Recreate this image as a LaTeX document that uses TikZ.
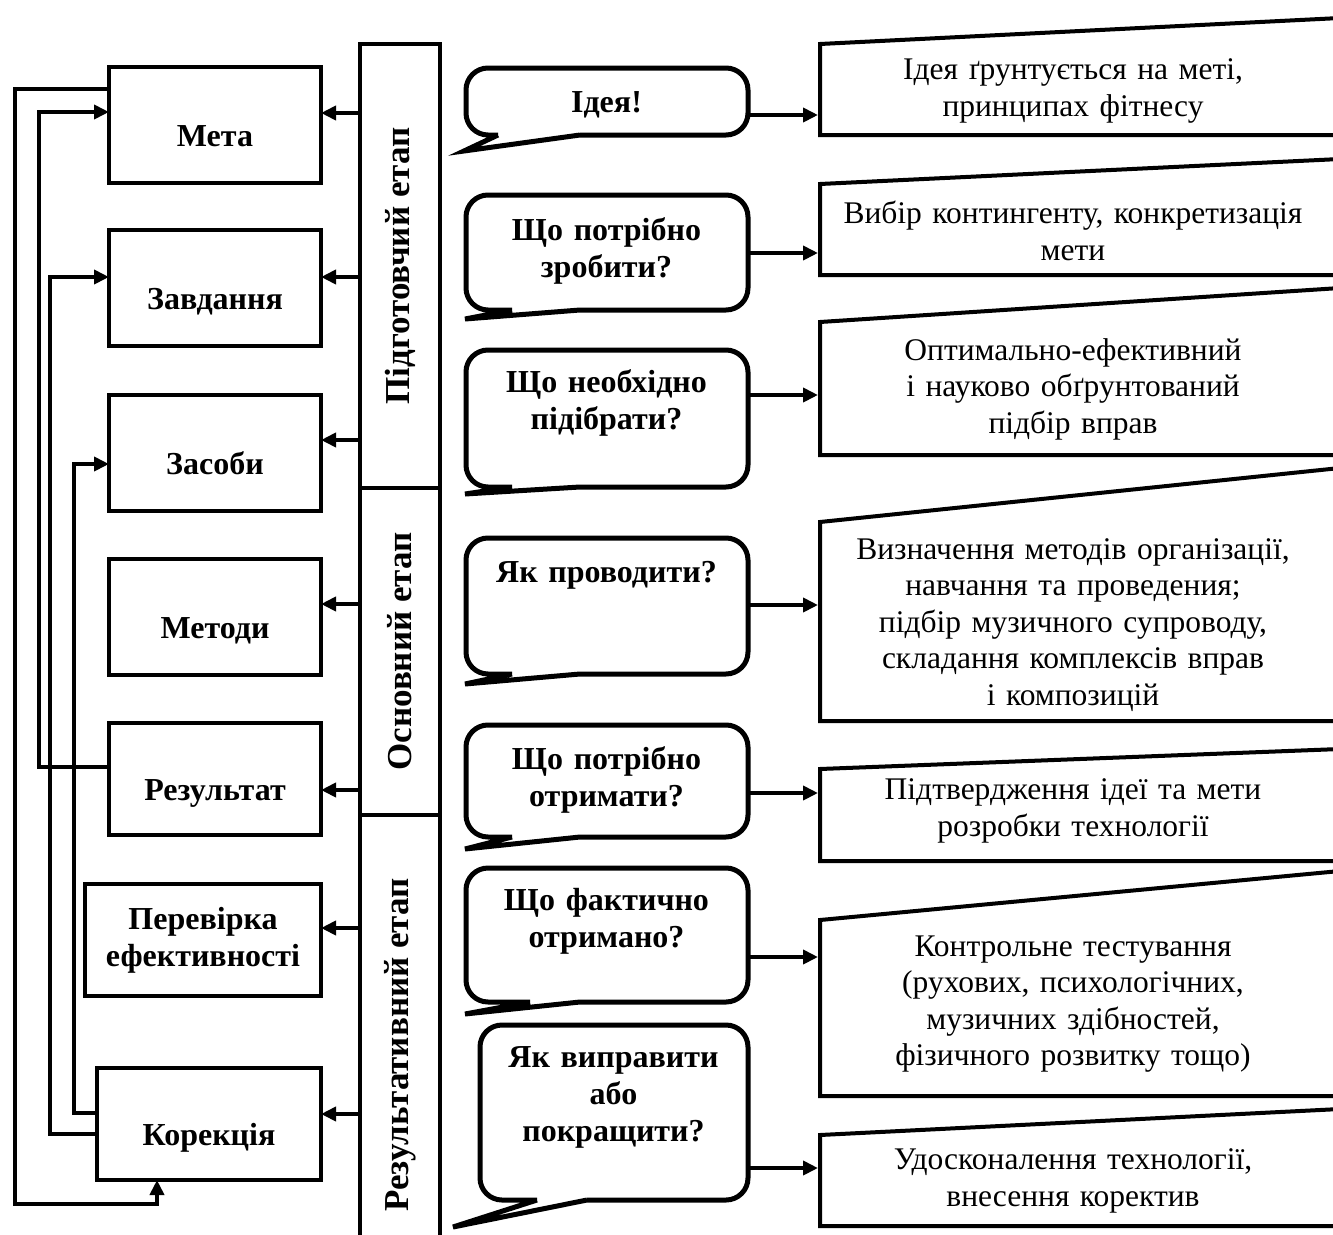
\documentclass[tikz,border=0pt]{standalone}
\usepackage{fontspec}
\setmainfont{Liberation Serif}
\usepackage{graphicx}
\usetikzlibrary{positioning,arrows.meta,calc}
\tikzset{
    partnode/.style={
        draw,minimum width=212pt,minimum height=116pt,outer sep=0pt,font=\fontsize{32}{37}\selectfont\bfseries
    },
    lowtext/.style={
        text height=42pt,text depth=0pt
    },
    stagenode/.style={
        draw,minimum width=80pt,outer sep=0pt,inner sep=0pt,font=\fontsize{35}{40}\selectfont\bfseries
    },
    asknode/.style={
        text width=273pt,align=center,inner sep=5pt,font=\fontsize{32}{37}\selectfont\bfseries
    },
    answernode/.style={
        text width=496pt,align=center,inner sep=5pt
    },
    bubble/.style={
        line width=5pt
    }
}

\begin{document}
\begin{tikzpicture}[x=1pt,y=-1pt,line width=4pt,>={Triangle[length=15pt,width=14pt]},
    node font=\fontsize{31.5}{36.5}\selectfont]
\useasboundingbox (0,0) rectangle (1333,1234);
\clip (0,0) rectangle (1333,1234);
% stages
\node[stagenode,minimum height=444pt] (prep) at (400,266) {\rotatebox{90}{Підготовчий етап}};
\node[stagenode,minimum height=327pt,below=0pt of prep] (main) {\rotatebox{90}{Основний етап}};
\node[stagenode,minimum height=460pt,below=0pt of main] (final) {\rotatebox{90}{Результативний етап}};
% parts of the technology
\node[partnode,lowtext] (meta) at (215,125) {Мета};
\node[partnode,lowtext,below=47pt of meta] (tasks) {Завдання};
\node[partnode,lowtext,below=49pt of tasks] (means) {Засоби};
\node[partnode,lowtext,below=48pt of means] (methods) {Методи};
\node[partnode,lowtext,minimum height=112pt,below=48pt of methods] (result) {Результат};
\node[partnode,align=center,minimum width=236pt,minimum height=112pt,below=49pt of result.south east,anchor=north east] (check) {Перевірка\\ефективності};
\node[partnode,lowtext,minimum width=224pt,minimum height=112pt,below=72pt of check.south east,anchor=north east] (fix) {Корекція};
\draw[->] let \p1 = (prep.west), \p2 = (meta.east) in (\x1,\y2+12pt) -- (\x2,\y2+12pt);
\draw[->] let \p1 = (prep.west), \p2 = (tasks.east) in (\x1,\y2+11pt) -- (\x2,\y2+11pt);
\draw[->] let \p1 = (prep.west), \p2 = (means.east) in (\x1,\y2+13pt) -- (\x2,\y2+13pt);
\draw[->] let \p1 = (main.west), \p2 = (methods.east) in (\x1,\y2+13pt) -- (\x2,\y2+13pt);
\draw[->] let \p1 = (main.west), \p2 = (result.east) in (\x1,\y2-11pt) -- (\x2,\y2-11pt);
\draw[->] let \p1 = (final.west), \p2 = (check.east) in (\x1,\y2+12pt) -- (\x2,\y2+12pt);
\draw[->] let \p1 = (final.west), \p2 = (fix.east) in (\x1,\y2+10pt) -- (\x2,\y2+10pt);
% feedback
\draw[->] ([yshift=36pt]meta.west) -- ++(-94,0) |- ([xshift=-52pt,yshift=-24pt]fix.south) -- ([xshift=-52pt]fix.south);
\draw[->] ([yshift=12pt]result.west) -| ([xshift=-70pt,yshift=13pt]meta.west) -- ([yshift=13pt]meta.west);
\draw[->] ([yshift=-10pt]fix.west) -| ([xshift=-59pt,yshift=11pt]tasks.west) -- ([yshift=11pt]tasks.west);
\draw[->] ([yshift=11pt]fix.west) -| ([xshift=-35pt,yshift=-11pt]means.west) -- ([yshift=-11pt]means.west);
% questions
\draw[bubble,rounded corners=22pt] (580,135) -- (748,135) -- (748,68) -- (466,68) -- (466,135) -- (498,135) [sharp corners] (498,135) -- (464,151) -- (580,135);
\draw[bubble,rounded corners=22pt] (580,310) -- (748,310) -- (748,195) -- (466,195) -- (466,310) -- (512,310) [sharp corners] (512,310) -- (465,319) -- (580,310);
\draw[bubble,rounded corners=22pt] (580,487) -- (748,487) -- (748,350) -- (466,350) -- (466,487) -- (512,487) [sharp corners] (512,487) -- (465,494) -- (580,487);
\draw[bubble,rounded corners=22pt] (580,674) -- (748,674) -- (748,538) -- (466,538) -- (466,674) -- (512,674) [sharp corners] (512,674) -- (465,684) -- (580,674);
\draw[bubble,rounded corners=22pt] (580,837) -- (748,837) -- (748,725) -- (466,725) -- (466,837) -- (512,837) [sharp corners] (512,837) -- (465,849) -- (580,837);
\draw[bubble,rounded corners=22pt] (580,1002) -- (748,1002) -- (748,868) -- (466,868) -- (466,1002) -- (530,1002) [sharp corners] (530,1002) -- (465,1014) -- (580,1002);
\draw[bubble,rounded corners=22pt] (587,1200) -- (748,1200) -- (748,1025) -- (480,1025) -- (480,1200) -- (537,1200) [sharp corners] (537,1200) -- (453,1227) -- (587,1200);
\node[asknode] (q1) at (606.5,105) {Ідея!};
\node[asknode] (q2) at (606.5,251) {Що потрібно\\зробити?};
\node[asknode] (q3) at (606.5,403) {Що необхідно\\підібрати?};
\node[asknode] (q4) at (606.5,575) {Як проводити?};
\node[asknode] (q5) at (606.5,780) {Що потрібно\\отримати?};
\node[asknode] (q6) at (606.5,921) {Що фактично\\отримано?};
\node[asknode,text width=259pt] (q7) at (613.5,1097) {Як виправити\\або\\покращити?};
% answers
\draw (1340,135) -- (820,135) -- (820,44) -- (1340,18);
\draw (1340,275) -- (820,275) -- (820,184) -- (1340,159);
\draw (1340,455) -- (820,455) -- (820,322) -- (1340,288);
\draw (1340,721) -- (820,721) -- (820,522) -- (1340,468);
\draw (1340,861) -- (820,861) -- (820,769) -- (1340,749);
\draw (1340,1096) -- (820,1096) -- (820,920) -- (1340,871);
\draw (1340,1226) -- (820,1226) -- (820,1135) -- (1340,1109);
\node[answernode] (a1) at (1073,91) {Ідея ґрунтується на меті,\\принципах фітнесу};
\node[answernode] (a2) at (1073,231) {Вибір контингенту, конкретизація\\мети};
\node[answernode] (a3) at (1073,389) {Оптимально-ефективний\\і науково обґрунтований\\підбір вправ};
\node[answernode] (a4) at (1073,625) {Визначення методів організації,\\навчання та проведения;\\підбір музичного супроводу,\\складання комплексів вправ\\і композицій};
\node[answernode] (a5) at (1073,811) {Підтвердження ідеї та мети\\розробки технології};
\node[answernode] (a6) at (1073,1004) {Контрольне тестування\\(рухових, психологічних,\\музичних здібностей,\\фізичного розвитку тощо)};
\node[answernode] (a7) at (1073,1181) {Удосконалення технології,\\внесення коректив};
\draw[->] let \p1 = (q1.east), \p2 = (a1.west) in (\x1,\y1-10pt) -- (\x2,\y1-10pt);
\draw[->] let \p1 = (q2.east), \p2 = (a2.west) in (\x1,\y1-2pt) -- (\x2,\y1-2pt);
\draw[->] let \p1 = (q3.east), \p2 = (a3.west) in (\x1,\y1+8pt) -- (\x2,\y1+8pt);
\draw[->] let \p1 = (q4.east), \p2 = (a4.west) in (\x1,\y1-30pt) -- (\x2,\y1-30pt);
\draw[->] let \p1 = (q5.east), \p2 = (a5.west) in (\x1,\y1-13pt) -- (\x2,\y1-13pt);
\draw[->] let \p1 = (q6.east), \p2 = (a6.west) in (\x1,\y1-36pt) -- (\x2,\y1-36pt);
\draw[->] let \p1 = (q7.east), \p2 = (a7.west) in (\x1,\y1-71pt) -- (\x2,\y1-71pt);
\end{tikzpicture}
\end{document}
